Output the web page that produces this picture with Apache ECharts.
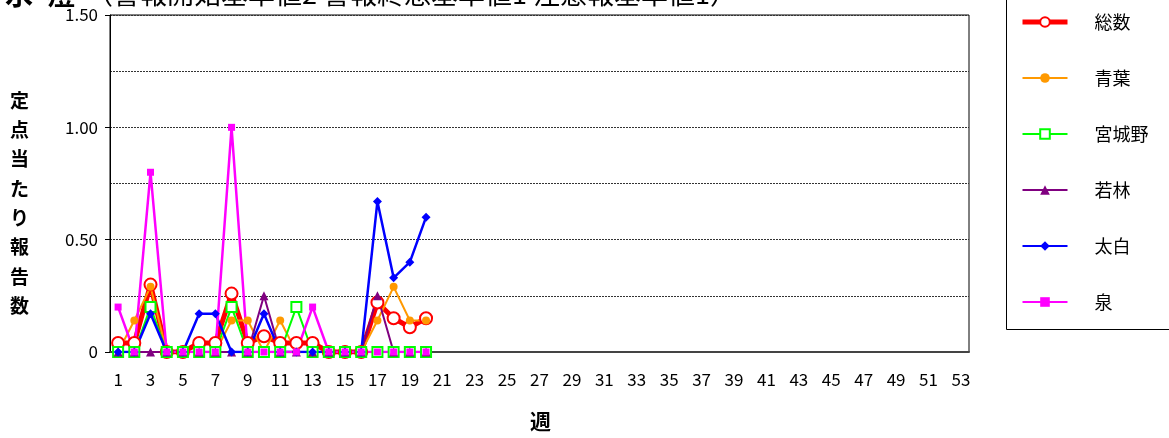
<!DOCTYPE html>
<html>
<head>
<meta charset="utf-8">
<script src="https://cdn.jsdelivr.net/npm/echarts@6/dist/echarts.min.js"></script>
<style>
html,body{margin:0;padding:0;background:#fff;}
#c{width:1169px;height:438px;}
</style>
</head>
<body>
<div id="c"></div>
<script>
const weeks = Array.from({length: 53}, (_, i) => String(i + 1));
const seriesNames = ['総数', '青葉', '宮城野', '若林', '太白', '泉'];
const total    = [0.04,0.04,0.30,0,0,0.04,0.04,0.26,0.04,0.07,0.04,0.04,0.04,0,0,0,0.22,0.15,0.11,0.15];
const aoba     = [0,0.14,0.29,0,0,0,0,0.14,0.14,0,0.14,0,0,0,0,0,0.14,0.29,0.14,0.14];
const miyagino = [0,0,0.20,0,0,0,0,0.20,0,0,0,0.20,0,0,0,0,0,0,0,0];
const wakabayashi = [0,0,0,0,0,0,0,0,0,0.25,0,0,0,0,0,0,0.25,0,0,0];
const taihaku  = [0,0,0.17,0,0,0.17,0.17,0,0,0.17,0,0,0,0,0,0,0.67,0.33,0.40,0.60];
const izumi    = [0.20,0,0.80,0,0,0,0,1.00,0,0,0,0,0.20,0,0,0,0,0,0,0];
const yTicks = [0, 0.5, 1.0, 1.5];

const FONT = '"Noto Sans CJK JP", "Noto Sans", sans-serif';
const chart = echarts.init(document.getElementById('c'));

function mk(name, data, color, symbol, size, width, bw) {
  return {
    name, type: 'line', data, symbol, symbolSize: size, showAllSymbol: true,
    lineStyle: {color, width},
    itemStyle: {color, borderColor: color, borderWidth: bw || 0},
    animation: false
  };
}

chart.setOption({
  backgroundColor: '#fff',
  animation: false,
  textStyle: {fontFamily: FONT},
  grid: {left: 110, right: 200, top: 15, bottom: 86, show: true, borderColor: '#000', borderWidth: 1},
  xAxis: {
    type: 'category', data: weeks, boundaryGap: true,
    axisLine: {lineStyle: {color: '#444', width: 2}},
    axisTick: {inside: true, length: 5, lineStyle: {color: '#444'}},
    axisLabel: {interval: 1, color: '#000', fontSize: 17, margin: 19, fontFamily: FONT},
    splitLine: {show: false}
  },
  yAxis: {
    type: 'value', min: 0, max: 1.5, interval: 0.5,
    axisLine: {show: true, lineStyle: {color: '#000', width: 1}},
    axisTick: {show: true, length: 5, lineStyle: {color: '#000'}},
    axisLabel: {color: '#000', fontSize: 17, margin: 12, fontFamily: FONT,
      formatter: v => (yTicks.indexOf(v) < 0 ? '' : (v === 0 ? '0' : v.toFixed(2)))},
    splitLine: {show: true, lineStyle: {color: '#333', type: [2, 1], width: 1}},
    minorTick: {show: false, splitNumber: 2},
    minorSplitLine: {show: true, lineStyle: {color: '#333', type: [2, 1], width: 1}}
  },
  legend: {
    orient: 'vertical', left: 1015, top: 8,
    itemWidth: 45, itemHeight: 12, itemGap: 38,
    textStyle: {fontSize: 18, color: '#000', padding: [0, 0, 0, 22], fontFamily: FONT},
    data: seriesNames.map((n, i) => i === 0 ? {name: n, lineStyle: {width: 5}} : {name: n})
  },
  graphic: [
    {type: 'rect', left: 1004, top: -5, shape: {width: 200, height: 332}, style: {fill: 'none', stroke: '#000', lineWidth: 1}, silent: true},
    {type: 'text', left: 5, top: -20, style: {text: '水', font: 'bold 28px ' + FONT, fill: '#000'}},
    {type: 'text', left: 47, top: -20, style: {text: '痘', font: 'bold 28px ' + FONT, fill: '#000'}},
    {type: 'text', left: 86, top: -20, style: {text: '（警報開始基準値2 警報終息基準値1 注意報基準値1）', font: '27px ' + FONT, fill: '#000'}},
    {type: 'text', left: 10, top: 86, style: {text: '定\n点\n当\nた\nり\n報\n告\n数', font: 'bold 19px ' + FONT, lineHeight: 29.3, fill: '#000', align: 'left'}},
    {type: 'text', left: 530, top: 411, style: {text: '週', font: 'bold 21px ' + FONT, fill: '#000'}}
  ],
  series: [
    mk('総数', total, '#FF0000', 'emptyCircle', 12, 5, 1.5),
    mk('青葉', aoba, '#FF9900', 'circle', 8, 2),
    mk('宮城野', miyagino, '#00FF00', 'emptyRect', 10, 2, 1.5),
    mk('若林', wakabayashi, '#800080', 'triangle', 9, 2),
    mk('太白', taihaku, '#0000FF', 'diamond', 9, 2.5),
    mk('泉', izumi, '#FF00FF', 'rect', 7, 2.5)
  ]
});
</script>
</body>
</html>
